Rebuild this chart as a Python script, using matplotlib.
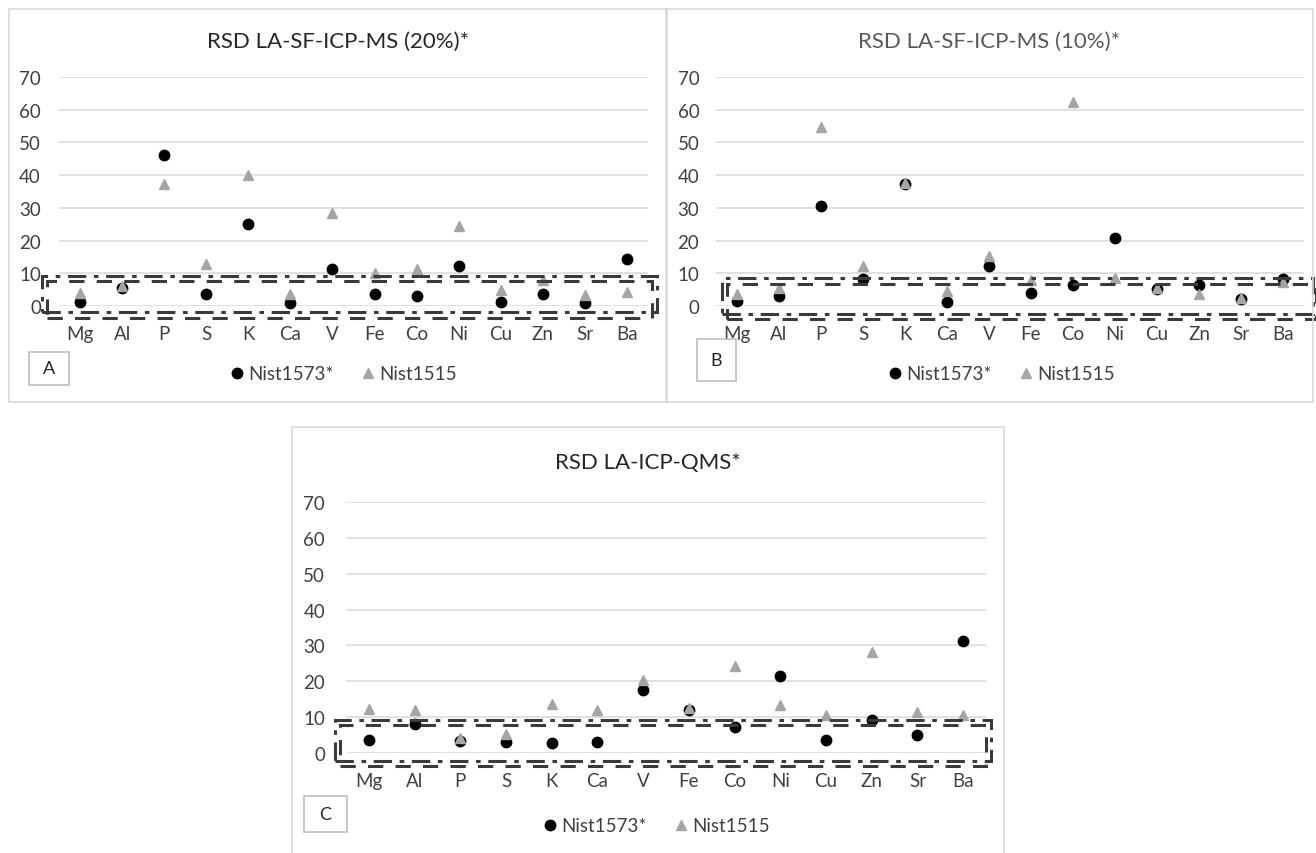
import numpy as np
import matplotlib.pyplot as plt
from matplotlib.patches import Rectangle

W, H = 1316, 854

plt.rcParams['font.family'] = ['Lato', 'DejaVu Sans']

elements = ['Mg', 'Al', 'P', 'S', 'K', 'Ca', 'V', 'Fe', 'Co', 'Ni', 'Cu', 'Zn', 'Sr', 'Ba']
yticks = [0, 10, 20, 30, 40, 50, 60, 70]

# RSD (%) per element
nist1573_a = [1.2, 5.6, 46.2, 3.8, 25.2, 1.0, 11.4, 3.8, 3.1, 12.3, 1.3, 3.8, 0.9, 14.5]
nist1515_a = [4.0, 6.2, 37.3, 12.8, 40.0, 3.8, 28.3, 10.2, 11.2, 24.5, 4.8, 7.9, 3.4, 4.4]

nist1573_b = [1.5, 3.1, 30.6, 8.2, 37.3, 1.3, 12.3, 3.9, 6.4, 20.9, 5.3, 6.4, 2.2, 8.2]
nist1515_b = [3.6, 5.6, 54.6, 12.3, 37.5, 4.6, 15.3, 7.9, 62.5, 8.7, 5.6, 3.8, 2.5, 7.2]

nist1573_c = [3.5, 8.2, 3.3, 3.1, 2.8, 3.1, 17.7, 12.1, 7.2, 21.5, 3.5, 9.1, 4.9, 31.1]
nist1515_c = [12.4, 11.9, 4.2, 5.4, 13.8, 11.9, 20.3, 12.5, 24.4, 13.3, 10.7, 28.2, 11.4, 10.7]

titles = ['RSD LA-SF-ICP-MS (20%)*', 'RSD LA-SF-ICP-MS (10%)*', 'RSD LA-ICP-QMS*']
letters = ['A', 'B', 'C']


def fig_rect(left, top, right, bottom):
    # pixel box -> figure fraction [l, b, w, h]
    return [left / W, 1 - bottom / H, (right - left) / W, (bottom - top) / H]


def fx(x):
    return x / W


def fy(y):
    return 1 - y / H


fig = plt.figure(figsize=(W / 100, H / 100), dpi=100)

panels = [
    dict(frame=(9, 10, 667, 403), axes=(59, 78, 648, 307), title_y=42,
         title_color='#262626', letter=(29, 353, 69, 386), legend=(343, 375),
         boxes=[(-0.90, -1.83, 13.71, 9.17), (-0.78, -3.67, 13.59, 7.64)],
         data=(nist1573_a, nist1515_a), ypad=13),
    dict(frame=(666, 10, 1313, 403), axes=(716, 78, 1304, 307), title_y=42,
         title_color='#595959', letter=(697, 340, 736, 382), legend=(1001, 375),
         boxes=[(-0.36, -2.45, 13.71, 8.56), (-0.24, -3.97, 13.79, 6.73)],
         data=(nist1573_b, nist1515_b), ypad=12),
    dict(frame=(292, 428, 1004, 860), axes=(346, 503, 986, 754), title_y=463,
         title_color='#262626', letter=(304, 797, 347, 833), legend=(656, 827),
         boxes=[(-0.74, -2.23, 13.61, 9.20), (-0.63, -3.63, 13.50, 7.81)],
         data=(nist1573_c, nist1515_c), ypad=15),
]

for i, p in enumerate(panels):
    l, t, r, b = p['frame']
    fig.patches.append(Rectangle((fx(l), fy(b)), (r - l) / W, (b - t) / H,
                                 transform=fig.transFigure, fill=False,
                                 edgecolor='#D9D9D9', lw=1.2))

    ax = fig.add_axes(fig_rect(*p['axes']))
    x = np.arange(len(elements))
    s1573, s1515 = p['data']
    ax.plot(x, s1573, 'o', color='black', ms=7.5, clip_on=False, zorder=3,
            label='Nist1573*')
    ax.plot(x, s1515, '^', color='#A5A5A5', ms=7.5, clip_on=False, zorder=4,
            label='Nist1515')

    ax.set_xlim(-0.5, len(elements) - 0.5)
    ax.set_ylim(0, 70)
    ax.set_yticks(yticks)
    ax.set_xticks(x)
    ax.set_xticklabels(elements)
    ax.grid(axis='y', color='#D9D9D9', lw=1.1)
    ax.set_axisbelow(True)
    for sp in ax.spines.values():
        sp.set_visible(False)
    ax.tick_params(axis='y', length=0, pad=p['ypad'], labelsize=13.5,
                   labelcolor='#404040')
    ax.tick_params(axis='x', length=0, pad=14, labelsize=13.5,
                   labelcolor='#404040')

    # highlighted band below 10 %
    (x0, y0, x1, y1), (u0, v0, u1, v1) = p['boxes']
    ax.add_patch(Rectangle((x0, y0), x1 - x0, y1 - y0, fill=False,
                           edgecolor='#3a3a3a', lw=2.2,
                           linestyle=(0, (6, 2.5, 1.5, 2.5)), clip_on=False,
                           zorder=5))
    ax.add_patch(Rectangle((u0, v0), u1 - u0, v1 - v0, fill=False,
                           edgecolor='#3a3a3a', lw=2.2,
                           linestyle=(0, (5, 4)), clip_on=False, zorder=5))

    fig.text(fx((l + r) / 2), fy(p['title_y']), titles[i], ha='center',
             va='center', fontsize=16, color=p['title_color'])

    la, ta, ra, ba = p['letter']
    fig.patches.append(Rectangle((fx(la), fy(ba)), (ra - la) / W, (ba - ta) / H,
                                 transform=fig.transFigure, fill=False,
                                 edgecolor='#BFBFBF', lw=1.2))
    fig.text(fx((la + ra) / 2), fy((ta + ba) / 2), letters[i], ha='center',
             va='center', fontsize=13, color='#262626')

    lx, ly = p['legend']
    ax.legend(loc='center', bbox_to_anchor=(fx(lx), fy(ly)),
              bbox_transform=fig.transFigure, ncol=2, frameon=False,
              fontsize=13.5, handlelength=0.8, handletextpad=0.2,
              columnspacing=1.4, labelcolor='#404040')

fig.savefig('out.png', dpi=100)
